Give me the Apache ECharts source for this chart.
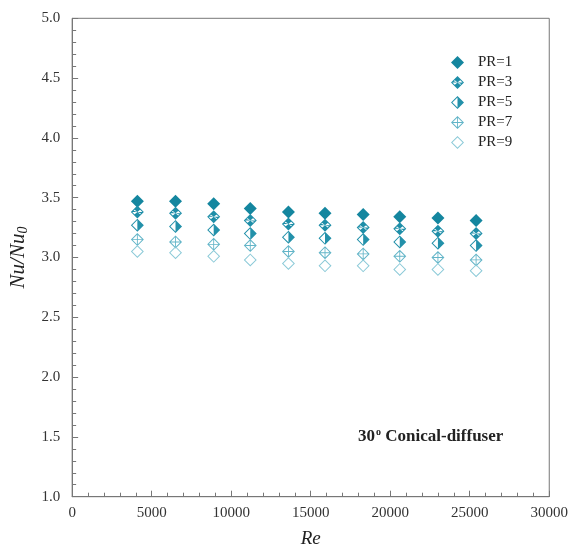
<!DOCTYPE html>
<html><head><meta charset="utf-8">
<script src="https://cdn.jsdelivr.net/npm/echarts@6/dist/echarts.min.js"></script>
<style>html,body{margin:0;padding:0;background:#fff}#c{width:571px;height:554px}</style>
</head><body><div id="c"></div>
<script>
const reValues = [4100, 6500, 8900, 11200, 13600, 15900, 18300, 20600, 23000, 25400];
const pr1 = [3.47, 3.47, 3.45, 3.41, 3.38, 3.37, 3.36, 3.34, 3.33, 3.31];
const pr3 = [3.38, 3.37, 3.34, 3.31, 3.28, 3.27, 3.25, 3.24, 3.22, 3.20];
const pr5 = [3.27, 3.26, 3.23, 3.20, 3.17, 3.16, 3.15, 3.13, 3.12, 3.10];
const pr7 = [3.15, 3.13, 3.11, 3.10, 3.05, 3.04, 3.03, 3.01, 3.00, 2.98];
const pr9 = [3.05, 3.04, 3.01, 2.98, 2.95, 2.93, 2.93, 2.90, 2.90, 2.89];
const seriesNames = ['PR=1', 'PR=3', 'PR=5', 'PR=7', 'PR=9'];
const xTicks = {min: 0, max: 30000, interval: 5000};
const yTicks = {min: 1.0, max: 5.0, interval: 0.5};

const ring = 'M12 0 L24 12 L12 24 L0 12 Z M12 2.6 L2.6 12 L12 21.4 L21.4 12 Z ';
const symbols = [
  'path://M12 0 L24 12 L12 24 L0 12 Z',
  'path://' + ring + 'M12 1 L18 7 L12 12 L6 7 Z M12 23 L6 17 L12 12 L18 17 Z M12 12 L1 12 L4 9 Z M12 12 L23 12 L20 15 Z',
  'path://' + ring + 'M12 1 L23 12 L12 23 Z',
  'path://' + ring + 'M11.2 1 L12.8 1 L12.8 23 L11.2 23 Z M1 11.2 L23 11.2 L23 12.8 L1 12.8 Z',
  'path://' + ring
];
const colors = ['#14869f', '#1e8ea8', '#2391aa', '#63b5c8', '#8ccad8'];
const dataSets = [pr1, pr3, pr5, pr7, pr9];

const series = seriesNames.map((n, i) => ({
  name: n, type: 'scatter', symbol: symbols[i], symbolSize: 13,
  itemStyle: {color: colors[i], opacity: 1},
  data: reValues.map((x, j) => [x, dataSets[i][j]])
}));

const serif = 'Liberation Serif, Times New Roman, serif';
const chart = echarts.init(document.getElementById('c'));
chart.setOption({
  animation: false,
  backgroundColor: '#fff',
  grid: {left: 70.5, right: 20, top: 18.3, bottom: 57.3, show: true, borderColor: '#777', borderWidth: 1},
  legend: {
    orient: 'vertical', left: 446, top: 50, itemGap: 5, itemWidth: 13, itemHeight: 13,
    data: seriesNames.map((n, i) => ({name: n, icon: symbols[i]})),
    textStyle: {fontFamily: serif, fontSize: 15, color: '#222', padding: [0, 0, 0, 9]}
  },
  xAxis: {
    type: 'value', min: xTicks.min, max: xTicks.max, interval: xTicks.interval,
    name: 'Re', nameLocation: 'middle', nameGap: 33,
    nameTextStyle: {fontFamily: serif, fontStyle: 'italic', fontSize: 19, color: '#222'},
    axisLine: {show: true, lineStyle: {color: '#777'}},
    axisTick: {show: true, inside: true, length: 6, lineStyle: {color: '#777'}},
    minorTick: {show: true, splitNumber: 5, length: 4, lineStyle: {color: '#777'}},
    axisLabel: {fontFamily: serif, fontSize: 15, color: '#333', margin: 9, formatter: v => String(v)},
    splitLine: {show: false}
  },
  yAxis: {
    type: 'value', min: yTicks.min, max: yTicks.max, interval: yTicks.interval,
    name: '{i|Nu/Nu}{s|0}', nameLocation: 'middle', nameGap: 34, nameRotate: 90,
    nameTextStyle: {rich: {
      i: {fontFamily: serif, fontStyle: 'italic', fontSize: 21, color: '#222'},
      s: {fontFamily: serif, fontStyle: 'italic', fontSize: 14, color: '#222', verticalAlign: 'bottom', padding: [10, 0, 0, 0]}
    }},
    axisLine: {show: true, lineStyle: {color: '#777'}},
    axisTick: {show: true, inside: true, length: 6, lineStyle: {color: '#777'}},
    minorTick: {show: true, splitNumber: 5, length: 4, lineStyle: {color: '#777'}},
    axisLabel: {fontFamily: serif, fontSize: 15, color: '#333', margin: 12, formatter: v => v.toFixed(1)},
    splitLine: {show: false}
  },
  graphic: [{
    type: 'text', left: 358, top: 427,
    style: {
      text: '{b|30}{sup|o}{b| Conical-diffuser}',
      rich: {
        b: {fontFamily: serif, fontWeight: 'bold', fontSize: 17, fill: '#222'},
        sup: {fontFamily: serif, fontWeight: 'bold', fontSize: 10, fill: '#222', verticalAlign: 'top', padding: [0, 0, 9, 1]}
      }
    }
  }],
  series: series
});
</script></body></html>
